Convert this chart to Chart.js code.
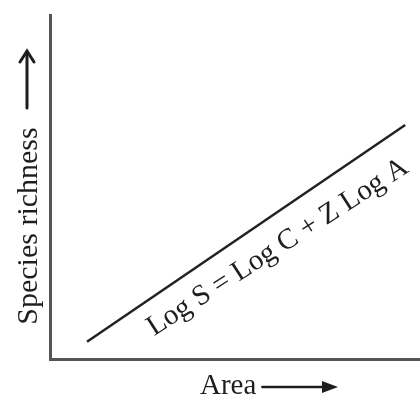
<!DOCTYPE html>
<html>
<head>
<meta charset="utf-8">
<script src="https://cdn.jsdelivr.net/npm/chart.js@4.4.1/dist/chart.umd.min.js"></script>
<style>
  html, body { margin: 0; padding: 0; background: #fff; }
  #wrap { width: 420px; height: 396px; }
</style>
</head>
<body>
<div id="wrap"><canvas id="canvas-1"></canvas></div>
<script>
// species-area curve, log scale
var areaValues = [1.0, 9.6];
var richnessValues = [0.5, 6.8];
var equationLabel = 'Log S = Log C + Z Log A';
var xTitle = 'Area';
var yTitle = 'Species richness';

var points = areaValues.map(function (a, i) {
  return { x: a, y: richnessValues[i] };
});

// axis titles with arrows + equation along the line
var labelsPlugin = {
  id: 'labels',
  afterDraw: function (chart) {
    var ctx = chart.ctx;
    var pts = chart.getDatasetMeta(0).data;
    var p0 = pts[0], p1 = pts[1];
    var ang = Math.atan2(p1.y - p0.y, p1.x - p0.x);
    var t = 0.55;
    var cx = p0.x + (p1.x - p0.x) * t;
    var cy = p0.y + (p1.y - p0.y) * t;

    ctx.save();
    ctx.fillStyle = '#1e1e1e';
    ctx.strokeStyle = '#1e1e1e';

    // equation
    ctx.save();
    ctx.translate(cx, cy);
    ctx.rotate(ang + 0.025);
    ctx.font = '29px "Liberation Serif"';
    ctx.textAlign = 'center';
    ctx.textBaseline = 'alphabetic';
    ctx.fillText(equationLabel, 0, 37);
    ctx.restore();

    // y title
    ctx.save();
    ctx.translate(37, 226);
    ctx.rotate(-Math.PI / 2);
    ctx.font = '30px "Liberation Serif"';
    ctx.textAlign = 'center';
    ctx.textBaseline = 'alphabetic';
    ctx.fillText(yTitle, 0, 0);
    ctx.restore();

    // y arrow
    ctx.lineWidth = 3;
    ctx.lineCap = 'round';
    ctx.beginPath();
    ctx.moveTo(27, 108);
    ctx.lineTo(27, 53);
    ctx.stroke();
    ctx.beginPath();
    ctx.moveTo(20, 62);
    ctx.lineTo(27, 51);
    ctx.lineTo(34, 62);
    ctx.stroke();

    // x title
    ctx.font = '29px "Liberation Serif"';
    ctx.textAlign = 'left';
    ctx.fillText(xTitle, 200, 394);
    var tw = ctx.measureText(xTitle).width;
    var ax = 200 + tw + 6;
    ctx.lineWidth = 2.5;
    ctx.beginPath();
    ctx.moveTo(ax, 387);
    ctx.lineTo(330, 387);
    ctx.stroke();
    ctx.beginPath();
    ctx.moveTo(322, 381);
    ctx.lineTo(338, 387);
    ctx.lineTo(322, 393);
    ctx.closePath();
    ctx.fill();

    ctx.restore();
  }
};

var speciesChart = new Chart(document.getElementById('canvas-1'), {
  type: 'scatter',
  data: {
    datasets: [{
      data: points,
      showLine: true,
      borderColor: '#222',
      borderWidth: 2.5,
      pointRadius: 0
    }]
  },
  options: {
    responsive: true,
    maintainAspectRatio: false,
    animation: false,
    layout: { padding: { left: 50, right: 0, top: 15, bottom: 37 } },
    plugins: {
      legend: { display: false },
      tooltip: { enabled: false }
    },
    scales: {
      x: {
        type: 'linear', min: 0, max: 10,
        ticks: { display: false },
        grid: { display: false, drawTicks: false },
        border: { color: '#555', width: 3 }
      },
      y: {
        type: 'linear', min: 0, max: 10,
        ticks: { display: false },
        grid: { display: false, drawTicks: false },
        border: { color: '#555', width: 3 }
      }
    }
  },
  plugins: [labelsPlugin]
});
</script>
</body>
</html>
